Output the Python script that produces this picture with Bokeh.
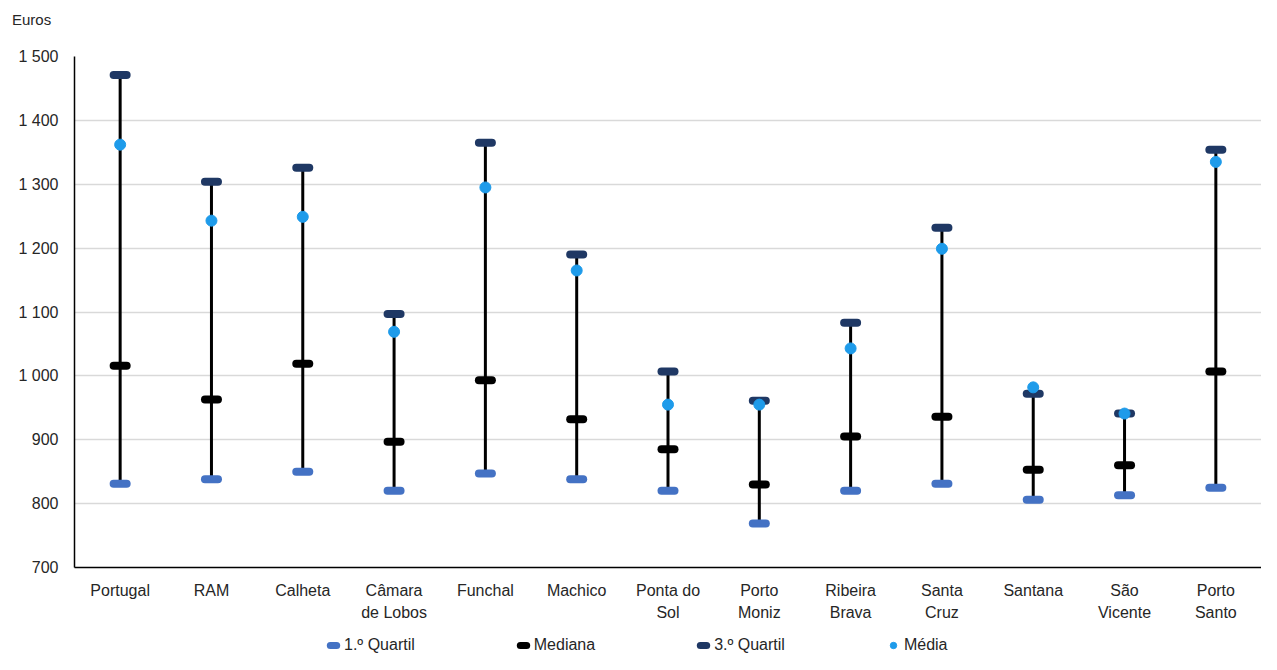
import numpy as np
from bokeh.plotting import figure
from bokeh.layouts import column
from bokeh.models import (FixedTicker, Legend, LegendItem, ColumnDataSource, Range1d, FactorRange, Div)
from bokeh.embed import file_html
from bokeh.resources import INLINE

categories = ["Portugal", "RAM", "Calheta", "Câmara\nde Lobos", "Funchal", "Machico",
              "Ponta do\nSol", "Porto\nMoniz", "Ribeira\nBrava", "Santa\nCruz", "Santana",
              "São\nVicente", "Porto\nSanto"]
q1 = [831, 838, 850, 820, 847, 838, 820, 769, 820, 831, 806, 813, 825]
mediana = [1016, 963, 1019, 897, 993, 932, 885, 830, 905, 936, 853, 860, 1007]
q3 = [1471, 1304, 1326, 1097, 1365, 1190, 1007, 961, 1083, 1232, 972, 941, 1354]
media = [1362, 1243, 1249, 1069, 1295, 1165, 955, 955, 1043, 1199, 982, 941, 1335]
y_ticks = [700, 800, 900, 1000, 1100, 1200, 1300, 1400, 1500]
y_tick_labels = ["700", "800", "900", "1 000", "1 100", "1 200", "1 300", "1 400", "1 500"]
series_names = ["1.º Quartil", "Mediana", "3.º Quartil", "Média"]
unit_label = "Euros"

COL_Q1, COL_MED, COL_Q3, COL_MEAN = "#4472C4", "#000000", "#1F3864", "#1E9BEA"
FONT = "Liberation Sans"
TXT = "#262626"

# unit label above the chart
head = Div(text=unit_label, width=200, height=16, margin=(12, 0, 0, 12),
           styles={"font-family": FONT, "font-size": "15px", "color": TXT, "line-height": "16px"})

src = ColumnDataSource(dict(cat=categories, q1=q1, med=mediana, q3=q3, mean=media))

p = figure(width=1261, height=608, x_range=FactorRange(*categories), y_range=Range1d(700, 1500),
           output_backend="svg", toolbar_location=None,
           min_border_left=74, min_border_right=0, min_border_top=28, min_border_bottom=69)
p.title.visible = False

p.outline_line_color = None
p.xgrid.grid_line_color = None
p.ygrid.grid_line_color = "#D9D9D9"
p.ygrid.grid_line_width = 1.5

p.yaxis.ticker = FixedTicker(ticks=y_ticks)
p.yaxis.major_label_overrides = {t: l for t, l in zip(y_ticks, y_tick_labels)}
for ax in (p.xaxis, p.yaxis):
    ax.axis_line_color = "black"
    ax.axis_line_width = 1.5
    ax.major_tick_line_color = None
    ax.minor_tick_line_color = None
    ax.major_label_text_font = FONT
    ax.major_label_text_font_size = "16px"
    ax.major_label_text_color = TXT
p.xaxis.major_label_text_line_height = 1.35
p.yaxis.major_label_standoff = 10
p.xaxis.major_label_standoff = 8

p.segment(x0="cat", y0="q1", x1="cat", y1="q3", source=src, line_color="black", line_width=3)
p.scatter(x="cat", y="q1", source=src, marker="dash", size=13, line_width=8,
          line_color=COL_Q1, line_cap="round")
p.scatter(x="cat", y="med", source=src, marker="dash", size=13, line_width=8,
          line_color=COL_MED, line_cap="round")
p.scatter(x="cat", y="q3", source=src, marker="dash", size=13, line_width=8,
          line_color=COL_Q3, line_cap="round")
p.scatter(x="cat", y="mean", source=src, marker="circle", size=11,
          fill_color=COL_MEAN, line_color=COL_MEAN)

# legend strip below the chart (legend-only renderers with no visible data)
lg = figure(width=1261, height=18, output_backend="svg", toolbar_location=None,
            x_axis_type=None, y_axis_type=None, min_border=0,
            x_range=Range1d(0, 1), y_range=Range1d(0, 1))
lg.outline_line_color = None
lg.grid.grid_line_color = None


def hidden():
    return ColumnDataSource(dict(x=np.array([np.nan]), y=np.array([np.nan])))


l_q1 = lg.scatter(x="x", y="y", source=hidden(), marker="dash", size=12,
                  line_width=7, line_color=COL_Q1, line_cap="round")
l_med = lg.scatter(x="x", y="y", source=hidden(), marker="dash", size=12,
                   line_width=7, line_color=COL_MED, line_cap="round")
l_q3 = lg.scatter(x="x", y="y", source=hidden(), marker="dash", size=12,
                  line_width=7, line_color=COL_Q3, line_cap="round")
l_mean = lg.scatter(x="x", y="y", source=hidden(), marker="circle", size=7,
                    fill_color=COL_MEAN, line_color=COL_MEAN)
legend = Legend(items=[LegendItem(label=n, renderers=[r]) for n, r in
                       zip(series_names, [l_q1, l_med, l_q3, l_mean])],
                orientation="horizontal", location=(251, 0), spacing=100,
                label_text_font=FONT, label_text_font_size="16px", label_text_color=TXT,
                glyph_width=16, glyph_height=16, label_standoff=3, label_height=16,
                border_line_color=None, background_fill_alpha=0, padding=0, margin=0)
lg.add_layout(legend, "center")

layout = column(head, p, lg, spacing=0)
open("out.html", "w").write(file_html(layout, INLINE))
